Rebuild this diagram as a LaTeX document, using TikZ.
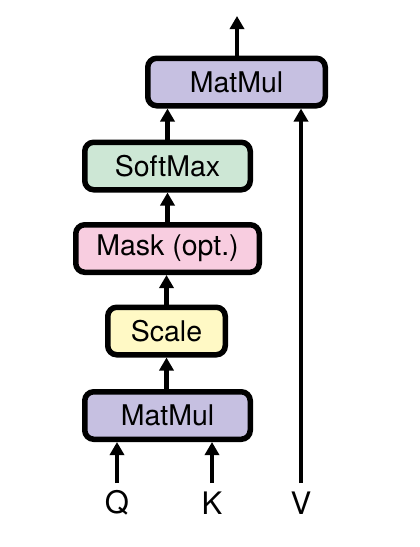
\documentclass[tikz,border=0pt]{standalone}
\usepackage{fontspec}
\setmainfont{TeX Gyre Heros}
\usetikzlibrary{arrows.meta}
\definecolor{mmcol}{RGB}{198,192,225}
\definecolor{smcol}{RGB}{205,231,213}
\definecolor{mkcol}{RGB}{248,205,224}
\definecolor{sccol}{RGB}{255,249,197}
\tikzset{
  opbox/.style={draw=black, line width=5.5pt, rounded corners=9pt, inner sep=0pt,
    minimum height=47.5pt, font=\fontsize{28.5}{34}\selectfont},
  flow/.style={line width=4.8pt, -{Triangle[length=13pt,width=14pt]}},
  inlabel/.style={font=\fontsize{31}{36}\selectfont, inner sep=0pt}
}
\begin{document}
\begin{tikzpicture}[x=1pt,y=-1pt]
\useasboundingbox (0,0) rectangle (420,547);
\node[opbox, fill=mmcol, minimum width=177.5pt] (mm2) at (236.5,82) {MatMul};
\node[opbox, fill=smcol, minimum width=165.5pt] (soft) at (167.5,166) {SoftMax};
\node[opbox, fill=mkcol, minimum width=183.5pt] (mask) at (167.5,248.5) {Mask (opt.)};
\node[opbox, fill=sccol, minimum width=117.5pt] (scale) at (166.5,331) {Scale};
\node[opbox, fill=mmcol, minimum width=165.5pt] (mm1) at (167.5,415.5) {MatMul};
\node[inlabel] (q) at (117,503) {Q};
\node[inlabel] (k) at (212,503) {K};
\node[inlabel] (v) at (301,503) {V};
\coordinate (qs) at (117,483);
\coordinate (ks) at (212,483);
\coordinate (vs) at (301,483);
\coordinate (out) at (237,16);
\draw[flow] (qs) -- (qs |- mm1.south);
\draw[flow] (ks) -- (ks |- mm1.south);
\draw[flow] (vs) -- (vs |- mm2.south);
\draw[flow] (mm1.north -| scale.south) -- (scale.south);
\draw[flow] (scale.north) -- (scale.north |- mask.south);
\draw[flow] (mask.north) -- (soft.south);
\draw[flow] (soft.north) -- (soft.north |- mm2.south);
\draw[flow] (mm2.north -| out) -- (out);
\end{tikzpicture}
\end{document}
